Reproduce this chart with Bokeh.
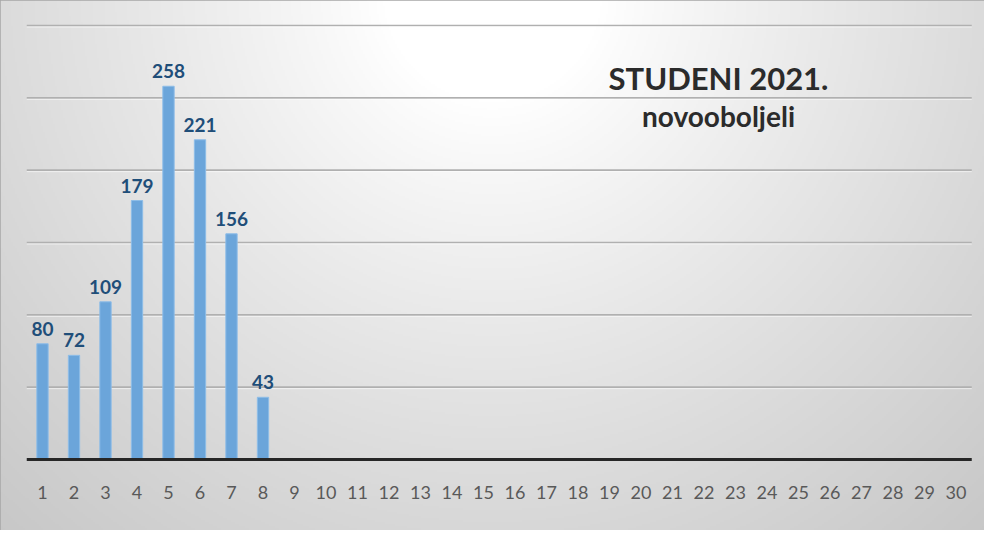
import numpy as np
from bokeh.plotting import figure
from bokeh.models import Range1d, Label
from bokeh.core.properties import value
from bokeh.embed import file_html
from bokeh.resources import INLINE

# ---- data ----
days = list(range(1, 31))
cases = [80, 72, 109, 179, 258, 221, 156, 43]
grid_values = [50, 100, 150, 200, 250, 300]
title_text = "STUDENI 2021."
subtitle_text = "novooboljeli"

# ---- layout (pixels) ----
W, H = 984, 530
x_ppu = 31.5          # pixels per category
y_ppu = 434 / 300     # pixels per case
x0_px = 42            # pixel position of first category
base_px = 459         # pixel position (from top) of value 0

x_start = days[0] - x0_px / x_ppu
x_end = x_start + W / x_ppu
y_end = base_px / y_ppu
y_start = y_end - H / y_ppu


def dx(px):
    return x_start + px / x_ppu


def dy(py):
    return y_end - py / y_ppu


p = figure(width=W, height=H, output_backend="svg", toolbar_location=None,
           title=None, x_axis_type=None, y_axis_type=None,
           x_range=Range1d(x_start, x_end), y_range=Range1d(y_start, y_end),
           min_border=0)
p.xgrid.visible = False
p.ygrid.visible = False
p.outline_line_color = "#a6a6a6"
p.outline_line_width = 2
p.background_fill_color = "#dcdcdc"
p.border_fill_color = "#dcdcdc"

# ---- radial gradient background ----
ny, nx = H // 2, W // 2
py = H - (np.arange(ny) + 0.5) * H / ny
px = (np.arange(nx) + 0.5) * W / nx
PX, PY = np.meshgrid(px, py)
d = np.sqrt((PX - 492) ** 2 + (PY + 8) ** 2)
t = np.clip((d - 110) / 640, 0, 1) ** 0.9
g = (255 - 57 * t).astype(np.uint8)
img = np.empty((ny, nx, 4), dtype=np.uint8)
img[..., 0] = g
img[..., 1] = g
img[..., 2] = g
img[..., 3] = 255
p.image_rgba(image=[img.view(np.uint32).reshape(ny, nx)], x=x_start, y=y_start,
             dw=x_end - x_start, dh=y_end - y_start)

# ---- gridlines ----
left = days[0] - 0.5
right = days[-1] + 0.5
n = len(grid_values)
p.segment(x0=[left] * n, x1=[right] * n, y0=grid_values, y1=grid_values,
          line_color="#b0b0b0", line_width=1.6)
hl = [v - 1.5 / y_ppu for v in grid_values]
p.segment(x0=[left] * n, x1=[right] * n, y0=hl, y1=hl,
          line_color="#ffffff", line_alpha=0.6, line_width=1)

# ---- bars ----
bar_days = days[:len(cases)]
p.vbar(x=bar_days, top=cases, bottom=0, width=0.36,
       fill_color="#6ba5da", line_color="#8dbde8", line_width=1)

# ---- baseline ----
p.segment(x0=[left], x1=[right], y0=[0], y1=[0], line_color="#262626", line_width=3)

# ---- data labels ----
p.text(x=bar_days, y=cases, text=[str(c) for c in cases],
       text_align="center", text_baseline="alphabetic", y_offset=-15,
       text_font=value("Lato"), text_font_style="bold",
       text_font_size="19px", text_color="#1f4e79")

# ---- category labels ----
p.text(x=days, y=[0] * len(days), text=[str(dd) for dd in days],
       text_align="center", text_baseline="alphabetic", y_offset=33,
       text_font=value("Lato"), text_font_size="18px", text_color="#595959")

# ---- titles ----
p.add_layout(Label(x=dx(718), y=dy(77), text=title_text, text_font="Lato",
                   text_font_size="31px", text_font_style="bold", text_color="#2b2b2b",
                   text_align="center", text_baseline="alphabetic"))
p.add_layout(Label(x=dx(718), y=dy(115), text=subtitle_text, text_font="Lato",
                   text_font_size="28px", text_font_style="bold", text_color="#2b2b2b",
                   text_align="center", text_baseline="alphabetic"))

open("out.html", "w").write(file_html(p, INLINE))
